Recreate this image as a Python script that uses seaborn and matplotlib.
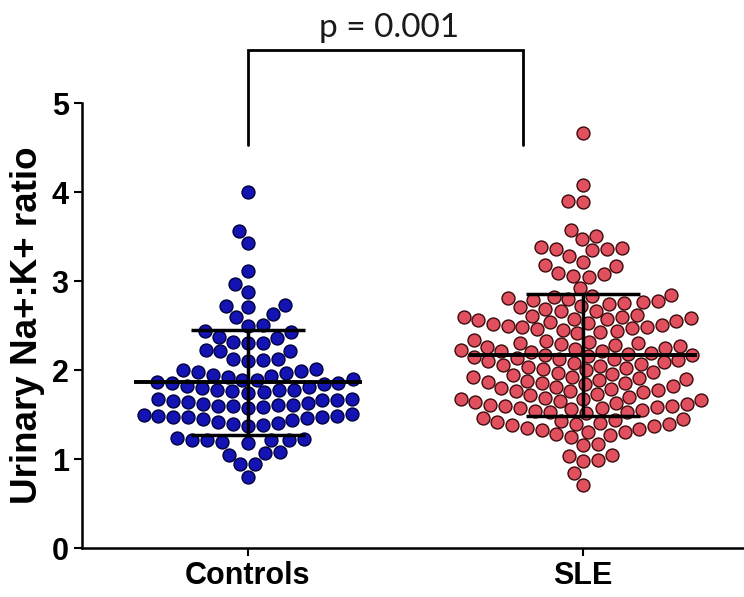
import numpy as np
import pandas as pd
import matplotlib
matplotlib.use("Agg")
import matplotlib.pyplot as plt
import seaborn as sns

# group names and colours
groups = ["Controls", "SLE"]
fill_colors = ["#1414b4", "#e0505f"]
edge_colors = ["#00003c", "#3c0a0a"]

# urinary Na+:K+ ratio per subject
controls = [
    4.00, 3.56, 3.43, 3.11, 2.97, 2.88,
    2.72, 2.73, 2.71, 2.63, 2.60,
    2.50, 2.51, 2.43, 2.44, 2.36, 2.37,
    2.31, 2.30, 2.32, 2.22, 2.23, 2.21,
    2.11, 2.12, 2.10, 2.13,
    1.99, 2.00, 1.98, 2.01, 1.97,
    1.85, 1.89, 1.92, 1.87, 1.84, 1.93, 1.89, 1.94, 1.86, 1.90,
    1.74, 1.78, 1.81, 1.75, 1.78, 1.82, 1.76, 1.80, 1.78,
    1.66, 1.65, 1.67, 1.68, 1.64, 1.66,
    1.60, 1.61, 1.59, 1.62, 1.57, 1.60, 1.63, 1.61,
    1.47, 1.48, 1.45, 1.47, 1.50, 1.44, 1.48, 1.47, 1.46, 1.51,
    1.40, 1.41, 1.38, 1.42, 1.37,
    1.22, 1.21, 1.23, 1.19, 1.22, 1.18, 1.24, 1.21,
    1.07, 1.08, 1.05,
    0.94, 0.95,
    0.80,
]

sle = [
    4.67, 4.08, 3.89, 3.90, 3.58, 3.51, 3.47,
    3.36, 3.38, 3.37, 3.36, 3.35, 3.28, 3.22, 3.17, 3.18,
    3.08, 3.05, 3.06, 3.09, 2.92,
    2.84, 2.82, 2.81, 2.79, 2.78, 2.76, 2.74, 2.71, 2.69, 2.67,
    2.66, 2.72, 2.77, 2.80, 2.83,
    2.62, 2.61, 2.60, 2.59, 2.58, 2.57, 2.56, 2.55, 2.54, 2.53, 2.52,
    2.51, 2.50, 2.49, 2.48, 2.47, 2.46, 2.45, 2.44, 2.43, 2.42, 2.60,
    2.34, 2.33, 2.32, 2.31, 2.30, 2.29, 2.28, 2.27, 2.26, 2.25,
    2.24, 2.23, 2.22, 2.21, 2.20, 2.19, 2.18, 2.17,
    2.17, 2.16, 2.15, 2.14, 2.13, 2.12, 2.11, 2.10, 2.09, 2.08, 2.07,
    2.06, 2.05, 2.04, 2.02, 2.01, 2.00, 1.98, 1.97, 1.96, 1.94, 1.92,
    1.92, 1.91, 1.90, 1.89, 1.88, 1.87, 1.86, 1.85, 1.84, 1.82,
    1.81, 1.80, 1.79, 1.78, 1.77, 1.76, 1.75, 1.73, 1.72, 1.70,
    1.69, 1.68, 1.67, 1.66, 1.65, 1.64, 1.63, 1.62, 1.61, 1.60,
    1.60, 1.59, 1.58, 1.57, 1.56, 1.55, 1.54, 1.53, 1.53, 1.52,
    1.46, 1.45, 1.44, 1.43, 1.42, 1.41, 1.40, 1.39, 1.38, 1.37,
    1.35, 1.34, 1.33, 1.31, 1.30, 1.28, 1.27, 1.25,
    1.17, 1.16, 1.04, 1.05, 0.98, 0.99, 0.84, 0.71,
]

p_text = "p = 0.001"

df = pd.DataFrame({
    "group": ["Controls"] * len(controls) + ["SLE"] * len(sle),
    "ratio": controls + sle,
})

sns.set_style("ticks")
plt.rcParams["font.family"] = ["Liberation Sans", "DejaVu Sans"]
plt.rcParams["text.color"] = "black"
plt.rcParams["axes.labelcolor"] = "black"
plt.rcParams["xtick.color"] = "black"
plt.rcParams["ytick.color"] = "black"

fig = plt.figure(figsize=(7.44, 5.97), dpi=100)
ax = fig.add_axes([0.110, 0.082, 0.890, 0.745])

for i, g in enumerate(groups):
    sns.swarmplot(data=df[df["group"] == g], x="group", y="ratio", order=groups,
                  color=fill_colors[i], edgecolor=edge_colors[i], linewidth=1,
                  size=9.3, ax=ax, zorder=2)

# mean and SD bars
for i, g in enumerate(groups):
    vals = df.loc[df["group"] == g, "ratio"]
    m, sd = vals.mean(), vals.std()
    ax.hlines(m, i - 0.34, i + 0.34, color="black", lw=2.8, zorder=5)
    ax.vlines(i, m - sd, m + sd, color="black", lw=2.5, zorder=5)
    ax.hlines([m - sd, m + sd], i - 0.17, i + 0.17, color="black", lw=2.5, zorder=5)

# significance bracket
ax.plot([0, 0, 0.82, 0.82], [4.53, 5.6, 5.6, 4.53], color="black", lw=2,
        clip_on=False, solid_joinstyle="miter")
ax.text(0.42, 5.85, p_text, ha="center", va="center", fontsize=24,
        family=["Lato", "DejaVu Sans"], color="#1a1a1a", clip_on=False)

ax.set_xlim(-0.495, 1.48)
ax.set_ylim(0, 5)
ax.set_yticks([0, 1, 2, 3, 4, 5])
ax.set_xlabel("")
ax.set_ylabel("Urinary Na+:K+ ratio", fontsize=26.5, fontweight="bold", labelpad=5)
ax.tick_params(axis="both", labelsize=22, width=1.5, length=6, color="black")
for lab in ax.get_xticklabels() + ax.get_yticklabels():
    lab.set_fontweight("bold")
sns.despine(ax=ax)
ax.spines["left"].set_linewidth(1.8)
ax.spines["bottom"].set_linewidth(1.8)
ax.spines["left"].set_color("black")
ax.spines["bottom"].set_color("black")

fig.savefig("out.png", dpi=100)
